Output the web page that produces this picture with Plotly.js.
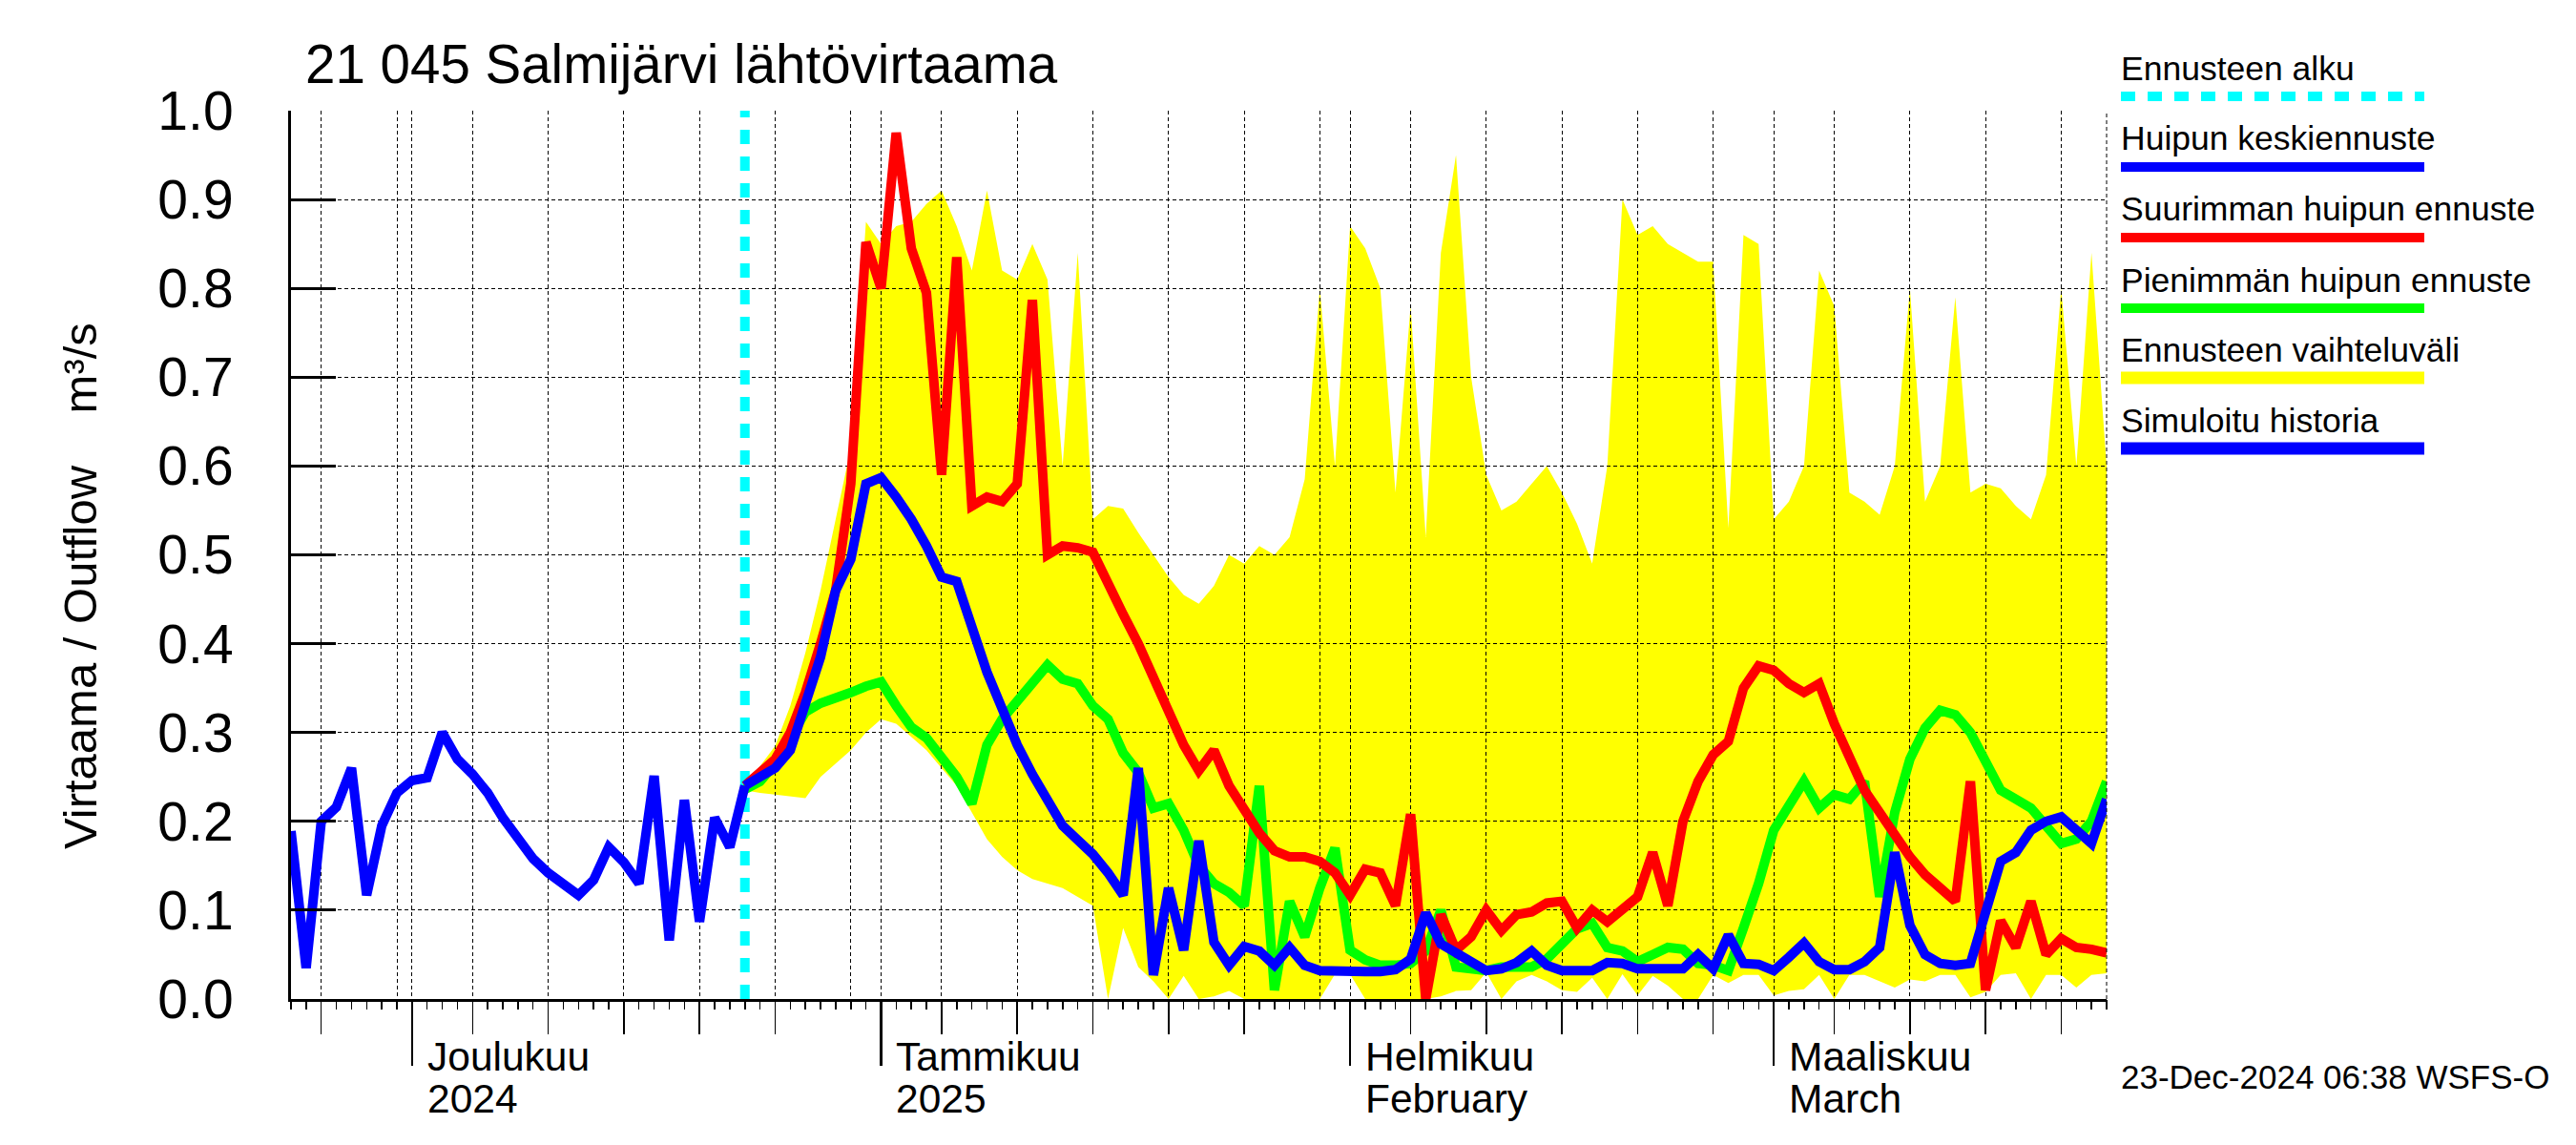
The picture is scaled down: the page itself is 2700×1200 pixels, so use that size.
<!DOCTYPE html>
<html>
<head>
<meta charset="utf-8">
<script src="https://cdn.plot.ly/plotly-3.0.1.min.js"></script>
<style>
html,body{margin:0;padding:0;background:#ffffff;}
#chart{width:2700px;height:1200px;}
</style>
</head>
<body>
<div id="chart"></div>
<script>
// ---------------- DATA ----------------
const axisStart = '2024-11-23';
const axisEnd = '2025-03-23';
const historyStart = '2024-11-23';
const forecastStart = '2024-12-23';

// Simuloitu historia (daily, 23 Nov - 23 Dec)
const historyValues = [0.189, 0.035, 0.200, 0.216, 0.260, 0.117, 0.195, 0.232, 0.246, 0.249,
  0.300, 0.270, 0.253, 0.232, 0.204, 0.180, 0.158, 0.142, 0.130, 0.117,
  0.134, 0.171, 0.154, 0.130, 0.251, 0.066, 0.224, 0.087, 0.204, 0.171, 0.240];

// Huipun keskiennuste (daily, 23 Dec - 23 Mar)
const meanForecast = [0.240, 0.250, 0.260, 0.280, 0.330, 0.385, 0.460, 0.495, 0.580, 0.587,
  0.565, 0.540, 0.510, 0.475, 0.470, 0.417, 0.368, 0.327, 0.286, 0.253,
  0.224, 0.195, 0.179, 0.163, 0.142, 0.117, 0.260, 0.027, 0.125, 0.055,
  0.178, 0.064, 0.038, 0.059, 0.054, 0.038, 0.058, 0.038, 0.032, 0.031,
  0.031, 0.031, 0.031, 0.033, 0.045, 0.097, 0.062, 0.053, 0.044, 0.032,
  0.034, 0.041, 0.054, 0.038, 0.032, 0.032, 0.032, 0.041, 0.040, 0.034,
  0.034, 0.034, 0.034, 0.050, 0.034, 0.072, 0.040, 0.039, 0.032, 0.047,
  0.063, 0.042, 0.033, 0.033, 0.042, 0.058, 0.165, 0.083, 0.050, 0.040,
  0.038, 0.040, 0.100, 0.155, 0.165, 0.190, 0.200, 0.205, 0.190, 0.175,
  0.225];

// Suurimman huipun ennuste
const maxForecast = [0.240, 0.255, 0.270, 0.300, 0.345, 0.400, 0.460, 0.580, 0.852, 0.800,
  0.975, 0.845, 0.795, 0.590, 0.835, 0.555, 0.565, 0.560, 0.580, 0.787,
  0.500, 0.510, 0.508, 0.503, 0.466, 0.433, 0.400, 0.360, 0.320, 0.286,
  0.257, 0.280, 0.240, 0.212, 0.187, 0.167, 0.160, 0.160, 0.155, 0.142,
  0.117, 0.146, 0.142, 0.105, 0.208, 0.000, 0.095, 0.055, 0.070, 0.100,
  0.077, 0.095, 0.098, 0.108, 0.110, 0.080, 0.100, 0.087, 0.100, 0.115,
  0.165, 0.105, 0.200, 0.245, 0.275, 0.290, 0.350, 0.375, 0.370, 0.355,
  0.345, 0.355, 0.310, 0.270, 0.235, 0.210, 0.185, 0.160, 0.140, 0.125,
  0.110, 0.245, 0.010, 0.088, 0.058, 0.110, 0.050, 0.068, 0.058, 0.056,
  0.052];

// Pienimmän huipun ennuste
const minForecast = [0.236, 0.245, 0.265, 0.294, 0.323, 0.333, 0.338, 0.345, 0.352, 0.357,
  0.330, 0.306, 0.294, 0.270, 0.250, 0.220, 0.286, 0.315, 0.335, 0.355,
  0.376, 0.360, 0.355, 0.330, 0.315, 0.277, 0.255, 0.215, 0.220, 0.190,
  0.150, 0.130, 0.120, 0.105, 0.240, 0.010, 0.110, 0.070, 0.125, 0.170,
  0.055, 0.044, 0.038, 0.038, 0.040, 0.054, 0.100, 0.036, 0.033, 0.032,
  0.036, 0.036, 0.036, 0.045, 0.063, 0.079, 0.085, 0.058, 0.054, 0.042,
  0.050, 0.058, 0.056, 0.040, 0.038, 0.032, 0.080, 0.130, 0.190, 0.220,
  0.245, 0.215, 0.230, 0.225, 0.245, 0.115, 0.210, 0.270, 0.305, 0.325,
  0.320, 0.300, 0.265, 0.235, 0.225, 0.215, 0.195, 0.175, 0.180, 0.200,
  0.245];

// Ennusteen vaihteluväli (upper / lower edge)
const rangeUpper = [0.245, 0.262, 0.285, 0.330, 0.390, 0.460, 0.540, 0.620, 0.875, 0.850,
  0.870, 0.875, 0.895, 0.910, 0.870, 0.820, 0.910, 0.820, 0.810, 0.850,
  0.810, 0.600, 0.840, 0.540, 0.555, 0.552, 0.525, 0.500, 0.475, 0.455,
  0.445, 0.465, 0.500, 0.490, 0.510, 0.500, 0.520, 0.585, 0.800, 0.600,
  0.870, 0.845, 0.800, 0.570, 0.780, 0.520, 0.840, 0.950, 0.700, 0.590,
  0.550, 0.560, 0.580, 0.600, 0.570, 0.535, 0.490, 0.600, 0.900, 0.860,
  0.870, 0.850, 0.840, 0.830, 0.830, 0.530, 0.860, 0.850, 0.540, 0.560,
  0.600, 0.820, 0.780, 0.570, 0.560, 0.545, 0.600, 0.800, 0.560, 0.600,
  0.790, 0.570, 0.580, 0.575, 0.555, 0.540, 0.590, 0.800, 0.600, 0.840,
  0.600];
const rangeLower = [0.235, 0.232, 0.230, 0.228, 0.226, 0.250, 0.265, 0.280, 0.300, 0.315,
  0.310, 0.295, 0.280, 0.260, 0.240, 0.210, 0.180, 0.160, 0.145, 0.135,
  0.130, 0.125, 0.115, 0.105, 0.000, 0.080, 0.036, 0.020, 0.000, 0.026,
  0.000, 0.003, 0.009, 0.000, 0.000, 0.000, 0.000, 0.000, 0.000, 0.028,
  0.028, 0.000, 0.000, 0.000, 0.000, 0.000, 0.003, 0.009, 0.010, 0.030,
  0.000, 0.020, 0.027, 0.020, 0.010, 0.008, 0.024, 0.000, 0.028, 0.004,
  0.026, 0.015, 0.000, 0.000, 0.027, 0.018, 0.027, 0.027, 0.004, 0.009,
  0.011, 0.027, 0.000, 0.027, 0.027, 0.020, 0.013, 0.022, 0.020, 0.027,
  0.027, 0.002, 0.008, 0.027, 0.029, 0.000, 0.027, 0.027, 0.013, 0.027,
  0.029];

// Tick labels
const monthStarts = ['2024-12-01', '2025-01-01', '2025-02-01', '2025-03-01'];
const monthNames = ['Joulukuu', 'Tammikuu', 'Helmikuu', 'Maaliskuu'];
const monthSubNames = ['2024', '2025', 'February', 'March'];
const yTickValues = [0, 0.1, 0.2, 0.3, 0.4, 0.5, 0.6, 0.7, 0.8, 0.9, 1.0];
const yTickText = ['0.0', '0.1', '0.2', '0.3', '0.4', '0.5', '0.6', '0.7', '0.8', '0.9', '1.0'];
const yRange = [0, 1.0];

const chartTitle = '21 045 Salmijärvi lähtövirtaama';
const yTitle = 'Virtaama / Outflow\u00a0\u00a0\u00a0\u00a0m³/s';
const stamp = '23-Dec-2024 06:38 WSFS-O';
const legendLabels = ['Ennusteen alku', 'Huipun keskiennuste', 'Suurimman huipun ennuste',
  'Pienimmän huipun ennuste', 'Ennusteen vaihteluväli', 'Simuloitu historia'];

// ---------------- HELPERS ----------------
function dayList(startIso, n) {
  const p = startIso.split('-').map(Number);
  const out = [];
  for (let i = 0; i < n; i++) {
    out.push(new Date(Date.UTC(p[0], p[1] - 1, p[2] + i)).toISOString().slice(0, 10));
  }
  return out;
}
const nAxisDays = Math.round((Date.parse(axisEnd) - Date.parse(axisStart)) / 864e5) + 1;
const allDays = dayList(axisStart, nAxisDays);
const dayOf = s => Number(s.slice(8, 10));
const fiveDayTicks = allDays.filter(s => [5, 10, 15, 20, 25].includes(dayOf(s)));
const day30Ticks = allDays.filter(s => dayOf(s) === 30);
const historyDates = dayList(historyStart, historyValues.length);
const forecastDates = dayList(forecastStart, meanForecast.length);

// ---------------- STYLE ----------------
const FONT = 'Liberation Sans, Arial, Helvetica, sans-serif';
const BLUE = '#0000FF', RED = '#FF0000', GREEN = '#00FF00', YELLOW = '#FFFF00', CYAN = '#00FFFF';
const LW = 10;
const GRID = {showgrid: true, gridcolor: '#000000', gridwidth: 1, griddash: '4px,3px'};

// plot area in pixels
const W = 2700, H = 1200;
const M = {l: 305, r: 492, t: 116, b: 153};
const PW = W - M.l - M.r, PH = H - M.t - M.b;
const px2x = px => (px - M.l) / PW;
const py2y = py => (H - M.b - py) / PH;

// ---------------- TRACES ----------------
// subplot xy: the forecast range band (drawn underneath the grid)
// subplot x2y2 (+ overlays x3y2, x4y2): grid, lines and axes
const traces = [
  {x: forecastDates, y: rangeLower, xaxis: 'x', yaxis: 'y', mode: 'lines',
   line: {width: 0, color: YELLOW}, hoverinfo: 'skip', showlegend: false, name: 'lower'},
  {x: forecastDates, y: rangeUpper, xaxis: 'x', yaxis: 'y', mode: 'lines', fill: 'tonexty',
   fillcolor: YELLOW, line: {width: 0, color: YELLOW}, hoverinfo: 'skip', showlegend: false,
   name: legendLabels[4]},
  {x: [forecastStart, forecastStart], y: yRange, xaxis: 'x2', yaxis: 'y2', mode: 'lines',
   line: {color: CYAN, width: 10, dash: '15px,13px'}, showlegend: false, name: legendLabels[0]},
  {x: forecastDates, y: minForecast, xaxis: 'x2', yaxis: 'y2', mode: 'lines',
   line: {color: GREEN, width: LW}, showlegend: false, name: legendLabels[3]},
  {x: forecastDates, y: maxForecast, xaxis: 'x3', yaxis: 'y2', mode: 'lines',
   line: {color: RED, width: LW}, showlegend: false, name: legendLabels[2]},
  {x: forecastDates, y: meanForecast, xaxis: 'x4', yaxis: 'y2', mode: 'lines',
   line: {color: BLUE, width: LW}, showlegend: false, name: legendLabels[1]},
  {x: historyDates, y: historyValues, xaxis: 'x4', yaxis: 'y2', mode: 'lines',
   line: {color: BLUE, width: LW}, showlegend: false, name: legendLabels[5]}
];

// ---------------- LEGEND (custom) ----------------
const legendTextY = [72, 145, 219, 294, 367, 441];
const legendLineY = [101, 175, 249, 323, 396, 470];
const legendLineW = [10, 10, 10, 10, 13, 13];
const legendColors = [CYAN, BLUE, RED, GREEN, YELLOW, BLUE];
const annotations = [];
const shapes = [];
legendLabels.forEach((lab, i) => {
  annotations.push({text: lab, xref: 'paper', yref: 'paper', x: px2x(2221), y: py2y(legendTextY[i]),
    xanchor: 'left', yanchor: 'middle', showarrow: false, font: {family: FONT, size: 35.5, color: '#000'}});
  shapes.push({type: 'line', xref: 'paper', yref: 'paper', x0: px2x(2223), x1: px2x(2541),
    y0: py2y(legendLineY[i]), y1: py2y(legendLineY[i]),
    line: {color: legendColors[i], width: legendLineW[i], dash: i === 0 ? '15px,13px' : 'solid'}});
});
// right border (dashed)
shapes.push({type: 'line', xref: 'paper', yref: 'paper', x0: 1, x1: 1, y0: 0, y1: 1,
  line: {color: '#000', width: 1, dash: '4px,3px'}});

// month labels
monthStarts.forEach((m, i) => {
  annotations.push({text: monthNames[i], xref: 'x2', yref: 'paper', x: m, y: py2y(1107),
    xanchor: 'left', yanchor: 'middle', xshift: 14, showarrow: false,
    font: {family: FONT, size: 42.5, color: '#000'}});
  annotations.push({text: monthSubNames[i], xref: 'x2', yref: 'paper', x: m, y: py2y(1151),
    xanchor: 'left', yanchor: 'middle', xshift: 14, showarrow: false,
    font: {family: FONT, size: 42.5, color: '#000'}});
});
// y axis title
annotations.push({text: yTitle, xref: 'paper', yref: 'paper', x: px2x(84), y: py2y(614),
  xanchor: 'center', yanchor: 'middle', textangle: -90, showarrow: false,
  font: {family: FONT, size: 49, color: '#000'}});
// timestamp
annotations.push({text: stamp, xref: 'paper', yref: 'paper', x: px2x(2221), y: py2y(1128),
  xanchor: 'left', yanchor: 'middle', showarrow: false, font: {family: FONT, size: 35, color: '#000'}});

// ---------------- LAYOUT ----------------
const xRange = [axisStart, axisEnd];
const layout = {
  width: W, height: H,
  margin: {l: M.l, r: M.r, t: M.t, b: M.b, pad: 0},
  paper_bgcolor: '#ffffff', plot_bgcolor: 'rgba(0,0,0,0)',
  showlegend: false,
  font: {family: FONT, color: '#000'},
  title: {text: chartTitle, font: {family: FONT, size: 56.5, color: '#000'},
    xref: 'container', yref: 'container', x: 320 / W, xanchor: 'left', y: 1 - 67 / H, yanchor: 'middle'},
  xaxis: {type: 'date', range: xRange, domain: [0, 1], anchor: 'y', visible: false, fixedrange: true},
  yaxis: {range: yRange, domain: [0, 1], anchor: 'x', visible: false, fixedrange: true},
  xaxis2: Object.assign({type: 'date', range: xRange, domain: [0, 1], anchor: 'y2',
    tickmode: 'array', tickvals: fiveDayTicks, showticklabels: false,
    ticks: 'outside', ticklen: 34, tickwidth: 1.5, tickcolor: '#000',
    showline: true, linewidth: 3, linecolor: '#000', zeroline: false, fixedrange: true,
    minor: {tickmode: 'array', tickvals: day30Ticks, ticks: '', showgrid: true,
      gridcolor: '#000', gridwidth: 1, griddash: '4px,3px'}}, GRID),
  xaxis3: Object.assign({type: 'date', range: xRange, overlaying: 'x2', anchor: 'y2',
    tickmode: 'array', tickvals: monthStarts, showticklabels: false,
    ticks: 'outside', ticklen: 69, tickwidth: 2.5, tickcolor: '#000',
    showline: false, zeroline: false, fixedrange: true}, GRID),
  xaxis4: {type: 'date', range: xRange, overlaying: 'x2', anchor: 'y2',
    tickmode: 'array', tickvals: allDays, showticklabels: false,
    ticks: 'outside', ticklen: 10, tickwidth: 1.5, tickcolor: '#000',
    showgrid: false, showline: false, zeroline: false, fixedrange: true},
  yaxis2: Object.assign({range: yRange, domain: [0, 1], anchor: 'x2',
    tickmode: 'array', tickvals: yTickValues, ticktext: yTickText,
    ticks: 'inside', ticklen: 47, tickwidth: 3, tickcolor: '#000',
    showline: true, linewidth: 3, linecolor: '#000', zeroline: false,
    tickfont: {family: FONT, size: 57, color: '#000'}, ticklabelstandoff: 46, fixedrange: true}, GRID),
  annotations: annotations,
  shapes: shapes
};

Plotly.newPlot('chart', traces, layout, {staticPlot: true, displayModeBar: false});
</script>
</body>
</html>
